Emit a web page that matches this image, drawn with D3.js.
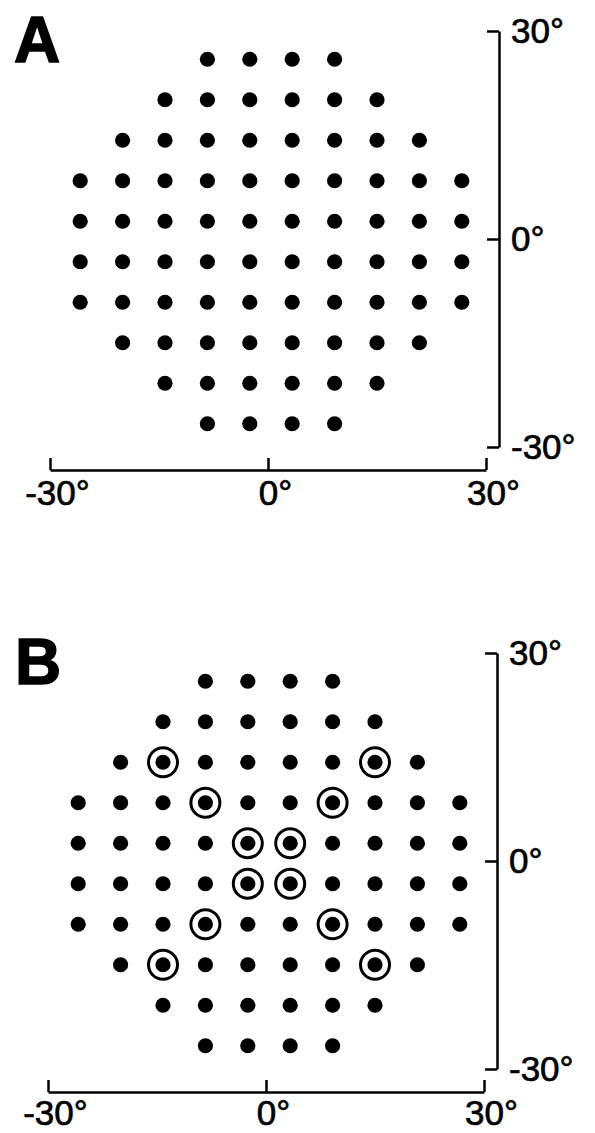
<!DOCTYPE html>
<html>
  <head>
    <meta charset="utf-8">
    <title>Visual field test grid</title>
    <script src="https://cdn.jsdelivr.net/npm/d3@7"></script>
    <style>
      body { margin: 0; background: #fff; }
      svg { display: block; background: #fff; }
      .axis path, .axis line { stroke: #000; stroke-width: 2.5; }
      .axis text { font-family: "Liberation Sans", Arial, Helvetica, sans-serif; font-size: 35px; fill: #000; stroke: #000; stroke-width: 0.7; }
      .panelLabel { font-family: "Liberation Sans", Arial, Helvetica, sans-serif; font-size: 64px; font-weight: bold; stroke: #000; stroke-width: 1.5; }
    </style>
  </head>
  <body>
    <svg id="chart" width="595" height="1133"></svg>
    <script>
      // data: test locations (degrees of eccentricity)
      const columns = [-27, -21, -15, -9, -3, 3, 9, 15, 21, 27];
      const rows = [27, 21, 15, 9, 3, -3, -9, -15, -21, -27];
      const rowMaxX = [9, 15, 21, 27, 27, 27, 27, 21, 15, 9];
      const circledB = [[-15, 15], [15, 15], [-9, 9], [9, 9], [-3, 3], [3, 3],
                        [-3, -3], [3, -3], [-9, -9], [9, -9], [-15, -15], [15, -15]];
      const tickValues = [-30, 0, 30];
      const tickLabels = ["-30°", "0°", "30°"];
      const panelNames = ["A", "B"];

      // build the grid of points from rows/columns
      points = [];
      rows.forEach(function(y, i) {
        columns.forEach(function(x) {
          if (Math.abs(x) <= rowMaxX[i]) points.push({ x: x, y: y });
        });
      });

      chart = d3.select("#chart");

      // axis scales and (slightly tighter) grid scales
      xAxisScale = d3.scaleLinear().domain([-30, 30]).range([50, 486]);
      yAxisScale = d3.scaleLinear().domain([-30, 30]).range([447, 31]);
      x = d3.scaleLinear().domain([-30, 30]).range([59, 483]);
      y = d3.scaleLinear().domain([-30, 30]).range([444, 39]);

      yAxis = d3.axisRight(yAxisScale)
        .tickValues(tickValues)
        .tickFormat(function(d, i) { return tickLabels[i]; })
        .tickSizeInner(-12)
        .tickSizeOuter(0)
        .tickPadding(12);

      offsets = [[0, 0], [-2, 622]];

      panelNames.forEach(function(name, p) {
        panel = chart.append("g")
          .attr("transform", "translate(" + offsets[p][0] + "," + offsets[p][1] + ")");

        panel.append("text")
          .attr("class", "panelLabel")
          .attr("x", 14 + p * 3)
          .attr("y", 62)
          .text(name);

        xAxis = d3.axisBottom(xAxisScale)
          .tickValues(tickValues)
          .tickFormat(function(d, i) { return tickLabels[i]; })
          .tickSizeInner(-12)
          .tickSizeOuter(0)
          .tickPadding(p ? 8 : 10);

        gx = panel.append("g")
          .attr("class", "axis")
          .attr("transform", "translate(0," + 470 + ")")
          .call(xAxis);
        gx.select(".domain").attr("fill", "none");
        gx.selectAll("text").attr("dx", "0.2em");

        gy = panel.append("g")
          .attr("class", "axis")
          .attr("transform", "translate(" + 499 + ",0)")
          .call(yAxis);
        gy.select(".domain").attr("fill", "none");

        panel.append("g")
          .selectAll("circle")
          .data(points)
          .join("circle")
            .attr("cx", function(d) { return x(d.x); })
            .attr("cy", function(d) { return y(d.y); })
            .attr("r", 7.6)
            .attr("fill", "#000");

        if (name === "B") {
          panel.append("g")
            .selectAll("circle")
            .data(circledB)
            .join("circle")
              .attr("cx", function(d) { return x(d[0]); })
              .attr("cy", function(d) { return y(d[1]); })
              .attr("r", 14.5)
              .attr("fill", "none")
              .attr("stroke", "#000")
              .attr("stroke-width", 3);
        }
      });
    </script>
  </body>
</html>
